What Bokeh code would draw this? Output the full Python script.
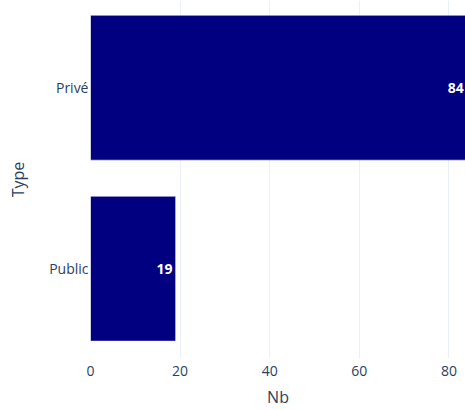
from bokeh.plotting import figure
from bokeh.models import Range1d, FixedTicker, ColumnDataSource
from bokeh.core.properties import value
from bokeh.embed import file_html
from bokeh.resources import INLINE

# Data
types = ["Public", "Privé"]
counts = [19, 84]
x_ticks = [0, 20, 40, 60, 80]

pos = list(range(len(types)))
src = ColumnDataSource(dict(y=pos, x=counts, label=[str(c) for c in counts]))

FONT = "Open Sans"
TXT = "#2a3f5f"

p = figure(width=465, height=410, output_backend="svg", toolbar_location=None,
           x_range=Range1d(0, 83.7), y_range=Range1d(-0.496, 1.482),
           min_border_top=0, min_border_right=0, min_border_left=90, min_border_bottom=51,
           background_fill_color="white", border_fill_color="white")

p.hbar(y="y", right="x", left=0, height=0.8, source=src,
       fill_color="#000080", line_color="white", line_width=0.5)
p.text(x="x", y="y", text="label", source=src, x_offset=-3,
       text_align="right", text_baseline="middle", text_color="white",
       text_font=value(FONT), text_font_size="14px", text_font_style="bold")

p.outline_line_color = None
p.ygrid.visible = False
p.xgrid.grid_line_color = "#ebf0f8"
p.xgrid.grid_line_width = 1

p.xaxis.ticker = FixedTicker(ticks=x_ticks)
p.yaxis.ticker = FixedTicker(ticks=pos)
p.yaxis.major_label_overrides = {i: t for i, t in zip(pos, types)}

for ax in (p.xaxis[0], p.yaxis[0]):
    ax.axis_line_color = None
    ax.major_tick_line_color = None
    ax.minor_tick_line_color = None
    ax.major_tick_out = 0
    ax.major_tick_in = 0
    ax.major_label_text_font = FONT
    ax.major_label_text_font_size = "14px"
    ax.major_label_text_color = TXT
    ax.axis_label_text_font = FONT
    ax.axis_label_text_font_size = "16px"
    ax.axis_label_text_font_style = "normal"
    ax.axis_label_text_color = TXT

p.xaxis.axis_label = "Nb"
p.yaxis.axis_label = "Type"
p.yaxis.major_label_standoff = 2
p.yaxis.axis_label_standoff = 17
p.xaxis.major_label_standoff = 7
p.xaxis.axis_label_standoff = 7

open("out.html", "w").write(file_html(p, INLINE))
